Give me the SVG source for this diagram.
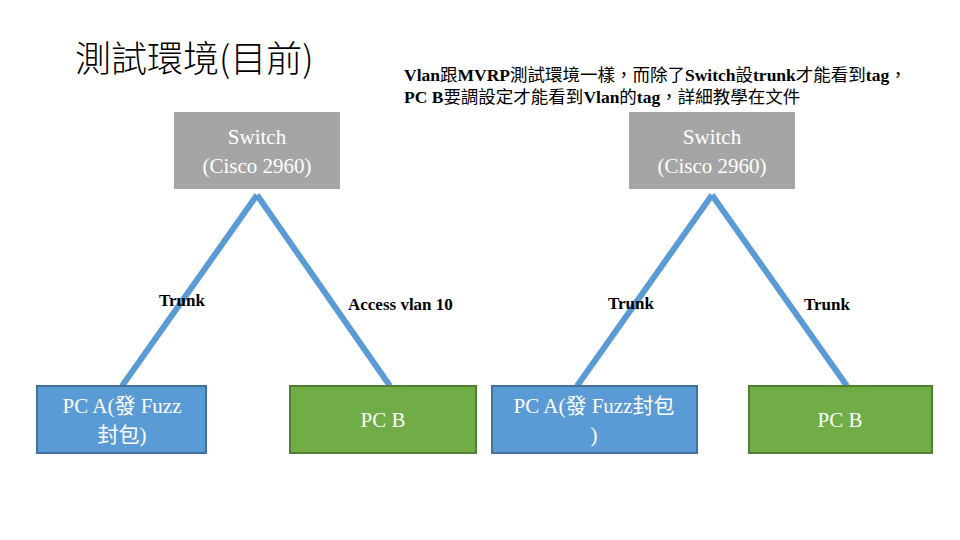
<svg xmlns="http://www.w3.org/2000/svg" width="960" height="540" viewBox="0 0 960 540">
<style>
.sw{fill:#a5a5a5}
.pa{fill:#5b9bd5;stroke:#41719c;stroke-width:2}
.pb{fill:#70ad47;stroke:#507e32;stroke-width:2}
.nt{font-family:"Liberation Serif","Noto Sans CJK TC",serif;font-size:21px;fill:#fff;text-anchor:middle}
.lb{font-family:"Liberation Serif","Noto Sans CJK TC",serif;font-size:17px;fill:#000}
.ds{font-family:"Liberation Serif","Noto Sans CJK TC",serif;font-size:17.5px;fill:#000}
.b{font-weight:bold}
.cn line{stroke:#5b9bd5;stroke-width:6}
</style>
<rect width="960" height="540" fill="#fff"/>
<text x="75" y="72" font-family="'Noto Sans CJK TC','Liberation Sans',sans-serif" font-size="36" font-weight="300" fill="#000">測試環境(目前)</text>
<text class="ds" x="404" y="81"><tspan class="b">Vlan</tspan>跟<tspan class="b">MVRP</tspan>測試環境一樣，而除了<tspan class="b">Switch</tspan>設<tspan class="b">trunk</tspan>才能看到<tspan class="b">tag</tspan>，</text>
<text class="ds" x="404" y="103"><tspan class="b">PC B</tspan>要調設定才能看到<tspan class="b">Vlan</tspan>的<tspan class="b">tag</tspan>，詳細教學在文件</text>
<g class="cn">
<line x1="257" y1="195" x2="122" y2="386"/>
<line x1="257" y1="195" x2="390" y2="386"/>
<line x1="712" y1="195" x2="577" y2="386"/>
<line x1="712" y1="195" x2="847" y2="386"/>
</g>
<text class="lb b" x="159" y="306">Trunk</text>
<text class="lb b" x="348" y="310">Access vlan 10</text>
<text class="lb b" x="608" y="309">Trunk</text>
<text class="lb b" x="804" y="310">Trunk</text>
<g id="sw1"><rect class="sw" x="174" y="112" width="166" height="77"/><text class="nt" x="257" y="144">Switch</text><text class="nt" x="257" y="173">(Cisco 2960)</text></g>
<g id="sw2"><rect class="sw" x="629" y="112" width="166" height="77"/><text class="nt" x="712" y="144">Switch</text><text class="nt" x="712" y="173">(Cisco 2960)</text></g>
<g id="pca1"><rect class="pa" x="37" y="386" width="169" height="67"/><text class="nt" x="122" y="413">PC A(發 Fuzz</text><text class="nt" x="122" y="442">封包)</text></g>
<g id="pcb1"><rect class="pb" x="290" y="386" width="186" height="67"/><text class="nt" x="383" y="427">PC B</text></g>
<g id="pca2"><rect class="pa" x="492" y="386" width="205" height="67"/><text class="nt" x="594" y="413">PC A(發 Fuzz封包</text><text class="nt" x="594" y="442">)</text></g>
<g id="pcb2"><rect class="pb" x="749" y="386" width="183" height="67"/><text class="nt" x="840" y="427">PC B</text></g>
</svg>
